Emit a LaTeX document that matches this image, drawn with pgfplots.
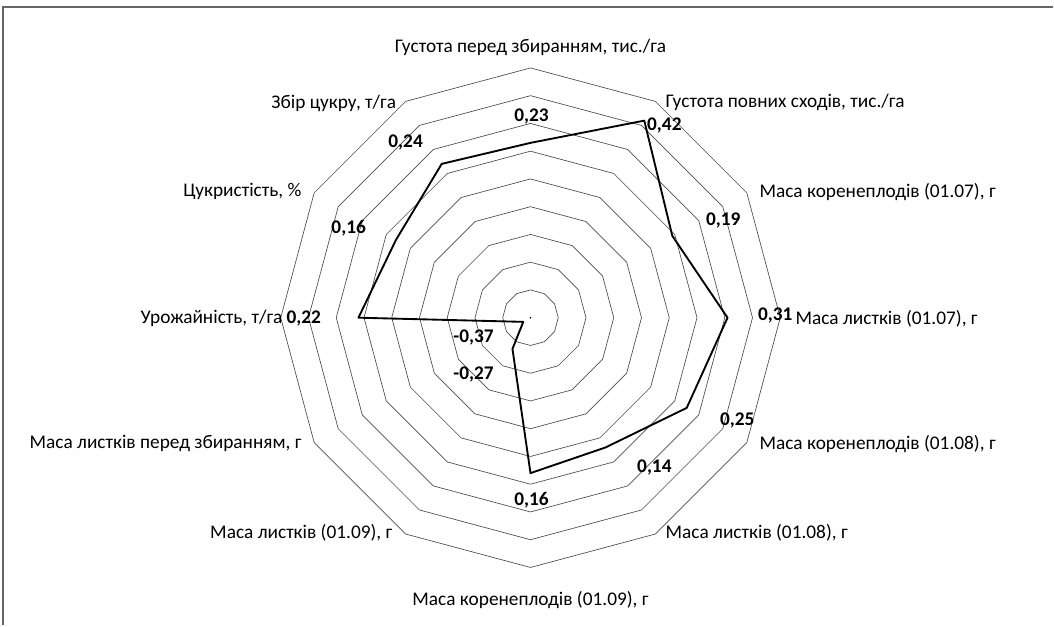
\documentclass[border=0pt]{standalone}
\usepackage{pgfplots}
\pgfplotsset{compat=1.18}
\usepackage{pgfplotstable}
\usepackage{fontspec}
\setmainfont{Carlito}

% angle (clockwise from top, degrees) and value
\pgfplotstableread{
a v
0 0.23
30 0.42
60 0.19
90 0.31
120 0.25
150 0.14
180 0.16
210 -0.27
240 -0.37
270 0.22
300 0.16
330 0.24
360 0.23
}\radar

\begin{document}
\begin{tikzpicture}
\begin{axis}[
  x=208.33pt, y=208.33pt,
  xmin=-1.9116, xmax=1.8828, ymin=-1.1088, ymax=1.1448,
  hide axis, clip=false,
  font=\fontsize{14.5}{17}\selectfont,
]
\path (axis cs:-1.9116,-1.1088) rectangle (axis cs:1.8828,1.1448);
\draw[line width=1.5pt, black!60] (axis cs:-1.9008,-1.1088) -- (axis cs:-1.9008,1.1178) -- (axis cs:1.8828,1.1178);

\pgfplotsinvokeforeach{1,2,3,4,5,6,7,8,9}{
  \addplot[black!70, line width=0.5pt] table[x expr={#1*0.1*sin(\thisrow{a})}, y expr={#1*0.1*cos(\thisrow{a})}]{\radar};
}
\addplot[black, mark=*, mark size=0.4pt, only marks] coordinates {(0,0)};

\addplot[black, line width=1.4pt, line join=round] table[x expr={(\thisrow{v}+0.4)*sin(\thisrow{a})}, y expr={(\thisrow{v}+0.4)*cos(\thisrow{a})}]{\radar};

% data labels
\begin{scope}[every node/.style={font=\fontsize{14.5}{17}\selectfont\bfseries}]
\node at (axis cs:0.0036,0.7236) {0,23};
\node at (axis cs:0.4824,0.6912) {0,42};
\node at (axis cs:0.6948,0.3492) {0,19};
\node at (axis cs:0.882,0.0072) {0,31};
\node at (axis cs:0.7452,-0.3708) {0,25};
\node at (axis cs:0.4464,-0.54) {0,14};
\node at (axis cs:0.0036,-0.6588) {0,16};
\node at (axis cs:-0.2052,-0.2052) {-0,27};
\node at (axis cs:-0.2052,-0.072) {-0,37};
\node at (axis cs:-0.8172,-0.0036) {0,22};
\node at (axis cs:-0.6552,0.324) {0,16};
\node at (axis cs:-0.45,0.63) {0,24};
\end{scope}

% category labels
\node at (axis cs:0,0.9756) {Густота перед збиранням, тис./га};
\node[anchor=west, inner sep=0pt] at (axis cs:0.486,0.7752) {Густота повних сходів, тис./га};
\node[anchor=west, inner sep=0pt] at (axis cs:0.8244,0.4536) {Маса коренеплодів (01.07), г};
\node[anchor=west, inner sep=0pt] at (axis cs:0.954,-0.0036) {Маса листків (01.07), г};
\node[anchor=west, inner sep=0pt] at (axis cs:0.8244,-0.4536) {Маса коренеплодів (01.08), г};
\node[anchor=west, inner sep=0pt] at (axis cs:0.486,-0.774) {Маса листків (01.08), г};
\node at (axis cs:0,-1.0188) {Маса коренеплодів (01.09), г};
\node[anchor=east, inner sep=0pt] at (axis cs:-0.4968,-0.774) {Маса листків (01.09), г};
\node[anchor=east, inner sep=0pt] at (axis cs:-0.8244,-0.4536) {Маса листків перед збиранням, г};
\node[anchor=east, inner sep=0pt] at (axis cs:-0.8928,-0.0036) {Урожайність, т/га};
\node[anchor=east, inner sep=0pt] at (axis cs:-0.8244,0.4536) {Цукристість, \%};
\node[anchor=east, inner sep=0pt] at (axis cs:-0.4836,0.7728) {Збір цукру, т/га};
\end{axis}
\end{tikzpicture}
\end{document}
